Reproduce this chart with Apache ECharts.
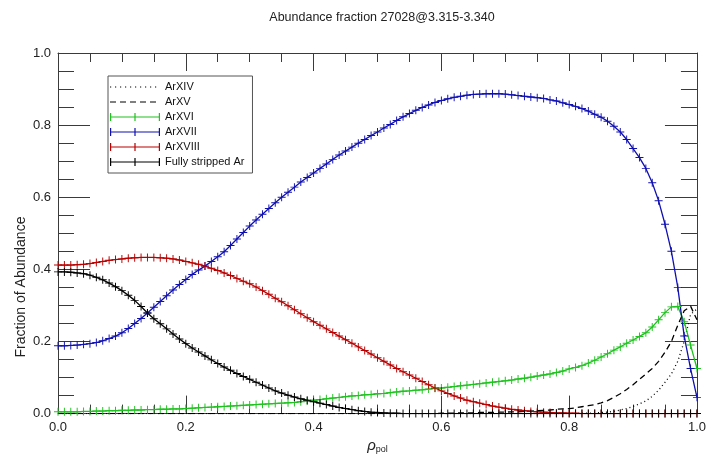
<!DOCTYPE html>
<html>
<head>
<meta charset="utf-8">
<script src="https://cdn.jsdelivr.net/npm/echarts@6/dist/echarts.min.js"></script>
<style>
  html, body { margin: 0; padding: 0; background: #fff; }
  #chart { width: 709px; height: 459px; }
</style>
</head>
<body>
<div id="chart"></div>
<script>
  // rho_pol grid
  const rho = [
    0.00, 0.01, 0.02, 0.03, 0.04, 0.05, 0.06, 0.07, 0.08, 0.09,
    0.10, 0.11, 0.12, 0.13, 0.14, 0.15, 0.16, 0.17, 0.18, 0.19,
    0.20, 0.21, 0.22, 0.23, 0.24, 0.25, 0.26, 0.27, 0.28, 0.29,
    0.30, 0.31, 0.32, 0.33, 0.34, 0.35, 0.36, 0.37, 0.38, 0.39,
    0.40, 0.41, 0.42, 0.43, 0.44, 0.45, 0.46, 0.47, 0.48, 0.49,
    0.50, 0.51, 0.52, 0.53, 0.54, 0.55, 0.56, 0.57, 0.58, 0.59,
    0.60, 0.61, 0.62, 0.63, 0.64, 0.65, 0.66, 0.67, 0.68, 0.69,
    0.70, 0.71, 0.72, 0.73, 0.74, 0.75, 0.76, 0.77, 0.78, 0.79,
    0.80, 0.81, 0.82, 0.83, 0.84, 0.85, 0.86, 0.87, 0.88, 0.89,
    0.90, 0.91, 0.92, 0.93, 0.94, 0.95, 0.96, 0.97, 0.98, 0.99,
    1.00
  ];

  const arXIV = [
    0, 0, 0, 0, 0, 0, 0, 0, 0, 0,
    0, 0, 0, 0, 0, 0, 0, 0, 0, 0,
    0, 0, 0, 0, 0, 0, 0, 0, 0, 0,
    0, 0, 0, 0, 0, 0, 0, 0, 0, 0,
    0, 0, 0, 0, 0, 0, 0, 0, 0, 0,
    0, 0, 0, 0, 0, 0, 0, 0, 0, 0,
    0, 0, 0, 0, 0, 0, 0, 0, 0, 0,
    0, 0, 0, 0, 0, 0, 0, 0, 0, 0,
    0, 0, 0.001, 0.001, 0.002, 0.003, 0.004, 0.006, 0.010, 0.014,
    0.020, 0.027, 0.035, 0.048, 0.065, 0.087, 0.110, 0.145, 0.200, 0.275,
    0.290
  ];

  const arXV = [
    0, 0, 0, 0, 0, 0, 0, 0, 0, 0,
    0, 0, 0, 0, 0, 0, 0, 0, 0, 0,
    0, 0, 0, 0, 0, 0, 0, 0, 0, 0,
    0, 0, 0, 0, 0, 0, 0, 0, 0, 0,
    0, 0, 0, 0, 0, 0, 0, 0, 0, 0,
    0, 0, 0, 0, 0, 0, 0, 0, 0, 0,
    0.001, 0.001, 0.001, 0.002, 0.002, 0.002, 0.003, 0.003, 0.003, 0.004,
    0.004, 0.005, 0.005, 0.006, 0.007, 0.008, 0.009, 0.010, 0.012, 0.013,
    0.014, 0.016, 0.019, 0.022, 0.025, 0.030, 0.036, 0.045, 0.055, 0.067,
    0.080, 0.095, 0.110, 0.125, 0.145, 0.170, 0.200, 0.245, 0.285, 0.298,
    0.260
  ];

  const arXVI = [
    0.005, 0.005, 0.005, 0.005, 0.006, 0.006, 0.007, 0.007, 0.008, 0.008,
    0.009, 0.009, 0.010, 0.010, 0.011, 0.011, 0.012, 0.012, 0.013, 0.013,
    0.014, 0.015, 0.016, 0.017, 0.018, 0.019, 0.020, 0.021, 0.022, 0.023,
    0.024, 0.025, 0.026, 0.027, 0.028, 0.029, 0.030, 0.031, 0.033, 0.035,
    0.037, 0.039, 0.041, 0.043, 0.045, 0.047, 0.049, 0.050, 0.052, 0.053,
    0.055, 0.056, 0.058, 0.060, 0.062, 0.063, 0.065, 0.066, 0.068, 0.070,
    0.071, 0.073, 0.075, 0.077, 0.079, 0.081, 0.083, 0.085, 0.087, 0.089,
    0.091, 0.093, 0.096, 0.098, 0.101, 0.104, 0.107, 0.110, 0.114, 0.118,
    0.124, 0.128, 0.133, 0.140, 0.148, 0.157, 0.166, 0.176, 0.185, 0.195,
    0.204, 0.214, 0.224, 0.240, 0.260, 0.280, 0.296, 0.297, 0.255, 0.190,
    0.125
  ];

  const arXVII = [
    0.188, 0.188, 0.189, 0.190, 0.192, 0.194, 0.197, 0.202, 0.208, 0.215,
    0.224, 0.236, 0.250, 0.264, 0.279, 0.295, 0.311, 0.327, 0.343, 0.358,
    0.372, 0.386, 0.398, 0.409, 0.422, 0.435, 0.449, 0.466, 0.484, 0.502,
    0.520, 0.537, 0.553, 0.569, 0.585, 0.600, 0.614, 0.628, 0.642, 0.655,
    0.667, 0.680, 0.692, 0.705, 0.717, 0.728, 0.739, 0.750, 0.760, 0.771,
    0.781, 0.792, 0.802, 0.813, 0.823, 0.832, 0.841, 0.849, 0.856, 0.863,
    0.868, 0.873, 0.877, 0.880, 0.883, 0.885, 0.886, 0.887, 0.887, 0.887,
    0.886, 0.884, 0.882, 0.880, 0.878, 0.876, 0.874, 0.870, 0.867, 0.862,
    0.857, 0.852, 0.846, 0.839, 0.830, 0.822, 0.811, 0.797, 0.781, 0.760,
    0.735, 0.710, 0.680, 0.640, 0.590, 0.525, 0.450, 0.350, 0.215, 0.125,
    0.045
  ];

  const arXVIII = [
    0.412, 0.412, 0.412, 0.413, 0.414, 0.416, 0.419, 0.422, 0.425, 0.427,
    0.429, 0.431, 0.432, 0.433, 0.433, 0.433, 0.432, 0.431, 0.429, 0.426,
    0.422, 0.418, 0.414, 0.409, 0.403, 0.397, 0.390, 0.383, 0.375, 0.367,
    0.360, 0.351, 0.341, 0.331, 0.320, 0.310, 0.299, 0.288, 0.277, 0.266,
    0.255, 0.245, 0.235, 0.225, 0.215, 0.205, 0.195, 0.185, 0.175, 0.165,
    0.155, 0.145, 0.135, 0.125, 0.116, 0.107, 0.098, 0.089, 0.080, 0.071,
    0.063, 0.056, 0.049, 0.043, 0.037, 0.033, 0.029, 0.025, 0.021, 0.018,
    0.015, 0.012, 0.010, 0.008, 0.006, 0.005, 0.004, 0.003, 0.002, 0.002,
    0.001, 0.001, 0, 0, 0, 0, 0, 0, 0, 0,
    0, 0, 0, 0, 0, 0, 0, 0, 0, 0,
    0
  ];

  const fullyStripped = [
    0.393, 0.393, 0.392, 0.390, 0.388, 0.384, 0.378, 0.371, 0.362, 0.352,
    0.341, 0.328, 0.314, 0.297, 0.279, 0.263, 0.249, 0.235, 0.221, 0.207,
    0.194, 0.182, 0.171, 0.160, 0.149, 0.139, 0.129, 0.120, 0.111, 0.103,
    0.095, 0.087, 0.079, 0.071, 0.063, 0.057, 0.051, 0.046, 0.041, 0.037,
    0.033, 0.029, 0.025, 0.021, 0.017, 0.014, 0.011, 0.008, 0.006, 0.004,
    0.003, 0.002, 0.001, 0.001, 0, 0, 0, 0, 0, 0,
    0, 0, 0, 0, 0, 0, 0, 0, 0, 0,
    0, 0, 0, 0, 0, 0, 0, 0, 0, 0,
    0, 0, 0, 0, 0, 0, 0, 0, 0, 0,
    0, 0, 0, 0, 0, 0, 0, 0, 0, 0,
    0
  ];

  const tickLabels = ['0.0', '0.2', '0.4', '0.6', '0.8', '1.0'];

  const FONT = '"Liberation Sans", Arial, Helvetica, sans-serif';
  const AXIS_COLOR = '#3a3a3a';

  // '+' marker like IDL psym=1
  const plus = 'path://M0,4.4H10V5.6H0Z M4.4,0H5.6V10H4.4Z';

  // legend icons (50 x 8 box); tiny corner dots keep the box size
  const corners = ' M0,0h0.01v0.01h-0.01Z M49.99,7.99h0.01v0.01h-0.01Z';
  let dotIcon = 'path://';
  for (let i = 0; i < 10; i++) dotIcon += 'M' + (i * 5) + ',3.4h1.2v1.2h-1.2Z ';
  dotIcon += corners;
  let dashIcon = 'path://';
  for (let i = 0; i < 5; i++) dashIcon += 'M' + (i * 10) + ',3.4h6v1.2h-6Z ';
  dashIcon += corners;
  const plusIcon = 'path://M0,3.4H50V4.6H0Z M0,0H1.2V8H0Z M24.4,0H25.6V8H24.4Z M48.8,0H50V8H48.8Z';

  function pairs(values) {
    return rho.map((r, i) => [r, values[i]]);
  }

  function lineSeries(name, values, color, type, marker) {
    return {
      name: name,
      type: 'line',
      data: pairs(values),
      showSymbol: marker,
      symbol: marker ? plus : 'none',
      symbolSize: 8,
      color: color,
      itemStyle: { color: color },
      lineStyle: {
        color: color,
        width: 1.3,
        type: type
      },
      silent: true,
      animation: false,
      z: 3
    };
  }

  const chart = echarts.init(document.getElementById('chart'), null, { renderer: 'canvas' });

  function axisCommon(extra) {
    return Object.assign({
      type: 'value',
      min: 0,
      max: 1,
      interval: 0.2,
      axisLine: { show: true, onZero: false, lineStyle: { color: AXIS_COLOR, width: 1 } },
      splitLine: { show: false },
      axisLabel: {
        color: '#222',
        fontFamily: FONT,
        fontSize: 13,
        formatter: v => tickLabels[Math.round(v / 0.2)]
      }
    }, extra);
  }

  const option = {
    backgroundColor: '#fff',
    animation: false,
    title: {
      text: 'Abundance fraction 27028@3.315-3.340',
      left: 377,
      textAlign: 'center',
      top: 6,
      textStyle: {
        fontFamily: FONT,
        fontSize: 12.5,
        fontWeight: 'normal',
        color: '#222'
      }
    },
    grid: {
      left: 58,
      right: 11,
      top: 53,
      bottom: 36,
      containLabel: false
    },
    legend: {
      orient: 'vertical',
      left: 108,
      top: 76,
      padding: [5, 8, 5, 2],
      itemGap: 3,
      itemWidth: 50,
      itemHeight: 8,
      itemTextGap: 4,
      borderColor: '#555',
      borderWidth: 1,
      backgroundColor: '#fff',
      selectedMode: false,
      textStyle: {
        fontFamily: FONT,
        fontSize: 11,
        lineHeight: 12,
        color: '#111'
      },
      data: [
        { name: 'ArXIV', icon: dotIcon },
        { name: 'ArXV', icon: dashIcon },
        { name: 'ArXVI', icon: plusIcon },
        { name: 'ArXVII', icon: plusIcon },
        { name: 'ArXVIII', icon: plusIcon },
        { name: 'Fully stripped Ar', icon: plusIcon }
      ]
    },
    xAxis: [
      axisCommon({
        position: 'bottom',
        axisTick: { show: true, inside: true, length: 18, lineStyle: { color: AXIS_COLOR } },
        minorTick: { show: true, splitNumber: 4, length: 9, lineStyle: { color: AXIS_COLOR } },
        axisLabel: {
          color: '#222',
          fontFamily: FONT,
          fontSize: 13,
          margin: 7,
          formatter: v => tickLabels[Math.round(v / 0.2)]
        },
        name: '{r|ρ}{s|pol}',
        nameLocation: 'middle',
        nameGap: 17,
        nameTextStyle: {
          rich: {
            r: { fontFamily: FONT, fontSize: 15, fontStyle: 'italic', color: '#222' },
            s: { fontFamily: FONT, fontSize: 9, color: '#222', padding: [7, 0, 0, 0] }
          }
        }
      }),
      axisCommon({
        position: 'top',
        axisTick: { show: true, inside: true, length: 18, lineStyle: { color: AXIS_COLOR } },
        minorTick: { show: true, splitNumber: 4, length: 9, lineStyle: { color: AXIS_COLOR } },
        axisLabel: { show: false }
      })
    ],
    yAxis: [
      axisCommon({
        position: 'left',
        axisTick: { show: true, inside: true, length: 32, lineStyle: { color: AXIS_COLOR } },
        minorTick: { show: true, splitNumber: 4, length: 16, lineStyle: { color: AXIS_COLOR } },
        axisLabel: {
          color: '#222',
          fontFamily: FONT,
          fontSize: 13,
          margin: 7,
          formatter: v => tickLabels[Math.round(v / 0.2)]
        }
      }),
      axisCommon({
        position: 'right',
        axisTick: { show: true, inside: true, length: 32, lineStyle: { color: AXIS_COLOR } },
        minorTick: { show: true, splitNumber: 4, length: 16, lineStyle: { color: AXIS_COLOR } },
        axisLabel: { show: false }
      })
    ],
    graphic: [
      {
        type: 'text',
        x: 21,
        y: 287,
        rotation: Math.PI / 2,
        style: {
          text: 'Fraction of Abundance',
          fontFamily: FONT,
          fontSize: 14,
          fill: '#222',
          align: 'center',
          verticalAlign: 'middle'
        }
      }
    ],
    series: [
      lineSeries('ArXIV', arXIV, '#000000', [1, 3], false),
      lineSeries('ArXV', arXV, '#000000', [6, 4], false),
      lineSeries('ArXVI', arXVI, '#1fc21f', 'solid', true),
      lineSeries('ArXVII', arXVII, '#1010b0', 'solid', true),
      lineSeries('ArXVIII', arXVIII, '#b80000', 'solid', true),
      lineSeries('Fully stripped Ar', fullyStripped, '#000000', 'solid', true)
    ]
  };

  chart.setOption(option);
</script>
</body>
</html>
